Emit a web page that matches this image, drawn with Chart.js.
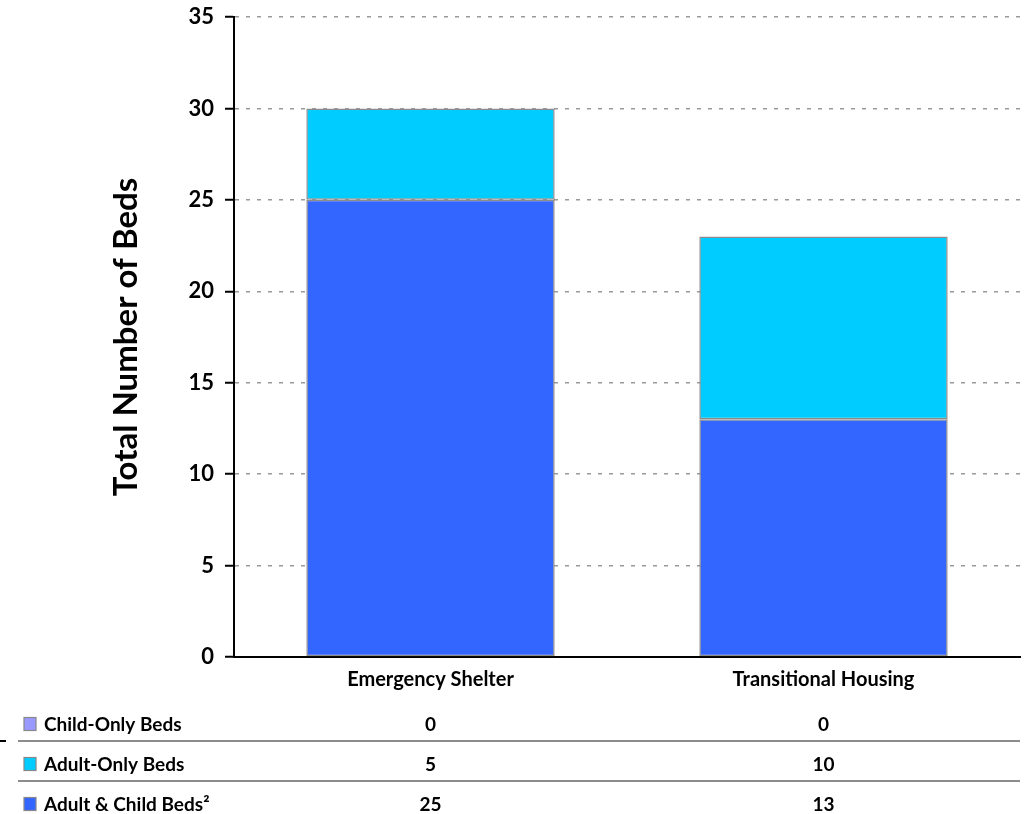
<!DOCTYPE html>
<html>
<head>
<meta charset="utf-8">
<script src="https://cdn.jsdelivr.net/npm/chart.js@4.4.0/dist/chart.umd.min.js"></script>
<style>
  html, body { margin: 0; padding: 0; background: #ffffff; }
  #wrap { width: 1024px; height: 814px; position: relative; }
</style>
</head>
<body>
<div id="wrap"><canvas id="c" width="1024" height="814"></canvas></div>
<script>
const categories = ['Emergency Shelter', 'Transitional Housing'];
const adultChildBeds = [25, 13];
const adultOnlyBeds = [5, 10];
const childOnlyBeds = [0, 0];
const seriesNames = ['Adult & Child Beds\u00B2', 'Adult-Only Beds', 'Child-Only Beds'];
const seriesColors = ['#3366FF', '#00CCFF', '#9999FF'];
const yTicks = [0, 5, 10, 15, 20, 25, 30, 35];

const FONT = 'Lato, "Open Sans", sans-serif';

const tablePlugin = {
  id: 'dataTable',
  afterDraw(chart) {
    const ctx = chart.ctx;
    const xs = chart.scales.x;
    const area = chart.chartArea;
    const ds = chart.data.datasets;
    const rowH = 40;
    const firstRowY = 724;
    ctx.save();
    ctx.font = 'bold 19px ' + FONT;
    ctx.textBaseline = 'middle';
    for (let r = 0; r < ds.length; r++) {
      const d = ds[ds.length - 1 - r];
      const y = firstRowY + r * rowH;
      ctx.fillStyle = d.backgroundColor;
      ctx.fillRect(24, y - 6.5, 12, 13);
      ctx.strokeStyle = '#888888';
      ctx.lineWidth = 1.2;
      ctx.strokeRect(24, y - 6.5, 12, 13);
      ctx.fillStyle = '#000000';
      ctx.textAlign = 'left';
      ctx.fillText(d.label, 44, y + 1);
      ctx.textAlign = 'center';
      for (let i = 0; i < d.data.length; i++) {
        ctx.fillText(String(d.data[i]), xs.getPixelForValue(i), y + 1);
      }
      if (r < ds.length - 1) {
        const ly = y + 17;
        ctx.strokeStyle = '#8c8c8c';
        ctx.lineWidth = 2;
        ctx.beginPath();
        ctx.moveTo(18, ly);
        ctx.lineTo(area.right, ly);
        ctx.stroke();
      }
    }
    ctx.strokeStyle = '#000000';
    ctx.lineWidth = 2;
    ctx.beginPath();
    ctx.moveTo(0, 741);
    ctx.lineTo(6, 741);
    ctx.stroke();
    ctx.restore();
  }
};

new Chart(document.getElementById('c'), {
  type: 'bar',
  data: {
    labels: categories,
    datasets: [
      { label: seriesNames[0], data: adultChildBeds, backgroundColor: seriesColors[0] },
      { label: seriesNames[1], data: adultOnlyBeds, backgroundColor: seriesColors[1] },
      { label: seriesNames[2], data: childOnlyBeds, backgroundColor: seriesColors[2] }
    ].map(d => Object.assign(d, {
      borderColor: '#8c8c8c', borderWidth: 1.5, borderSkipped: false,
      categoryPercentage: 1.0, barPercentage: 0.632
    }))
  },
  options: {
    responsive: false,
    animation: false,
    devicePixelRatio: 1,
    layout: { padding: { top: 17, right: 4, left: 0, bottom: 0 } },
    plugins: { legend: { display: false }, tooltip: { enabled: false }, title: { display: false } },
    scales: {
      x: {
        stacked: true,
        grid: { display: false, drawTicks: false },
        border: { display: true, color: '#000000', width: 2 },
        ticks: { color: '#000000', font: { family: FONT, size: 20, weight: 'bold' }, padding: 11, maxRotation: 0 },
        afterFit(scale) { scale.height = 157; scale.paddingLeft = 0; scale.paddingRight = 0; }
      },
      y: {
        stacked: true,
        min: 0, max: 35,
        afterBuildTicks(scale) { scale.ticks = yTicks.map(v => ({ value: v })); },
        grid: { color: '#999999', lineWidth: 1.5, tickLength: 9, tickColor: '#000000', tickWidth: 2, tickBorderDash: [] },
        border: { display: true, color: '#000000', width: 2, dash: [4, 7] },
        ticks: { color: '#000000', font: { family: FONT, size: 22, weight: 'bold' }, padding: 11 },
        title: {
          display: true, text: 'Total Number of Beds', color: '#000000',
          font: { family: FONT, size: 33, weight: 'bold' },
          padding: { top: 107, bottom: 0 }
        },
        afterFit(scale) { scale.width = 234; scale.paddingTop = 0; scale.paddingBottom = 0; }
      }
    }
  },
  plugins: [tablePlugin]
});
</script>
</body>
</html>
